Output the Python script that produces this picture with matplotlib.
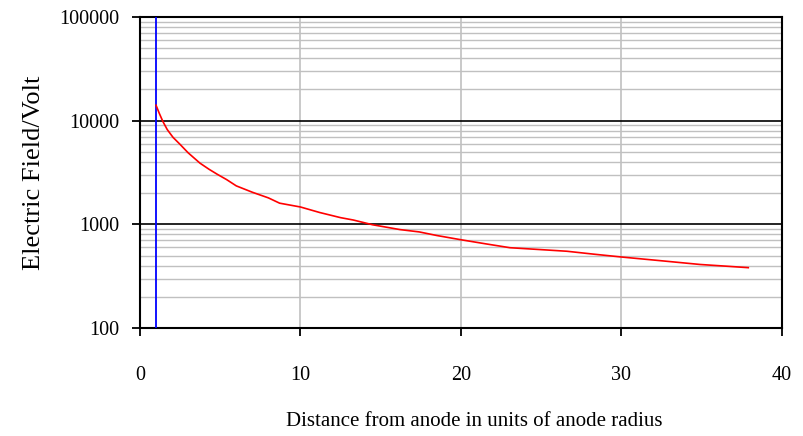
import matplotlib
matplotlib.use("Agg")
import matplotlib.pyplot as plt
from matplotlib.ticker import FixedLocator, LogLocator, NullFormatter, FuncFormatter

# field strength along the radius, read in units of anode radius
distance = [1.0, 1.2, 1.43, 1.7, 2.06, 2.5, 3.0, 3.74, 4.3, 4.8, 5.4, 6.0, 7.0,
            8.0, 8.7, 10.0, 11.2, 12.5, 13.3, 14.5, 16.2, 17.4, 18.5, 20.0,
            21.5, 23.05, 25.0, 26.6, 28.3, 30.0, 32.5, 34.9, 36.5, 37.9]
field = [14100, 11800, 9800, 8200, 6900, 5900, 4900, 3890, 3400, 3050, 2700,
         2350, 2040, 1800, 1600, 1470, 1300, 1160, 1100, 990, 890, 845, 780,
         710, 650, 595, 570, 550, 515, 484, 445, 410, 395, 382]
anode_radius = 1.0

x_ticks = [0, 10, 20, 30, 40]
y_ticks = [100, 1000, 10000, 100000]

plt.rcParams['font.family'] = ['Liberation Serif', 'DejaVu Serif']
plt.rcParams['font.size'] = 14.5

fig = plt.figure(figsize=(8.04, 4.36), dpi=100)
ax = fig.add_axes([0.1741, 0.2477, 0.7985, 0.7133])

ax.set_yscale('log')
ax.set_xlim(0, 40)
ax.set_ylim(100, 100000)

ax.xaxis.set_major_locator(FixedLocator(x_ticks))
ax.yaxis.set_major_locator(FixedLocator(y_ticks))
ax.yaxis.set_major_formatter(FuncFormatter(lambda v, p: '%d' % round(v)))
ax.yaxis.set_minor_locator(LogLocator(base=10, subs=range(2, 10)))
ax.yaxis.set_minor_formatter(NullFormatter())

# grid: gray minor decades, black at the inner decades, gray verticals
ax.grid(which='minor', axis='y', color='#c0c0c0', lw=1.0)
for v in y_ticks[1:-1]:
    ax.axhline(v, color='black', lw=1.2, zorder=1)
for v in x_ticks[1:-1]:
    ax.axvline(v, color='#c0c0c0', lw=1.2, zorder=0.5)

ax.axvline(anode_radius, color='blue', lw=1.3, zorder=3)
ax.plot(distance, field, color='red', lw=1.2, zorder=4)

for s in ax.spines.values():
    s.set_linewidth(1.5)
ax.tick_params(which='major', direction='out', length=6, width=1.3)
ax.tick_params(axis='x', pad=21)
ax.tick_params(axis='y', pad=9)
ax.tick_params(which='minor', length=0)

ax.set_xlabel('Distance from anode in units of anode radius', fontsize=15)
ax.xaxis.set_label_coords(0.52, -0.27)
ax.set_ylabel('Electric Field/Volt', fontsize=19, labelpad=10)

fig.savefig('out.png', dpi=100)
